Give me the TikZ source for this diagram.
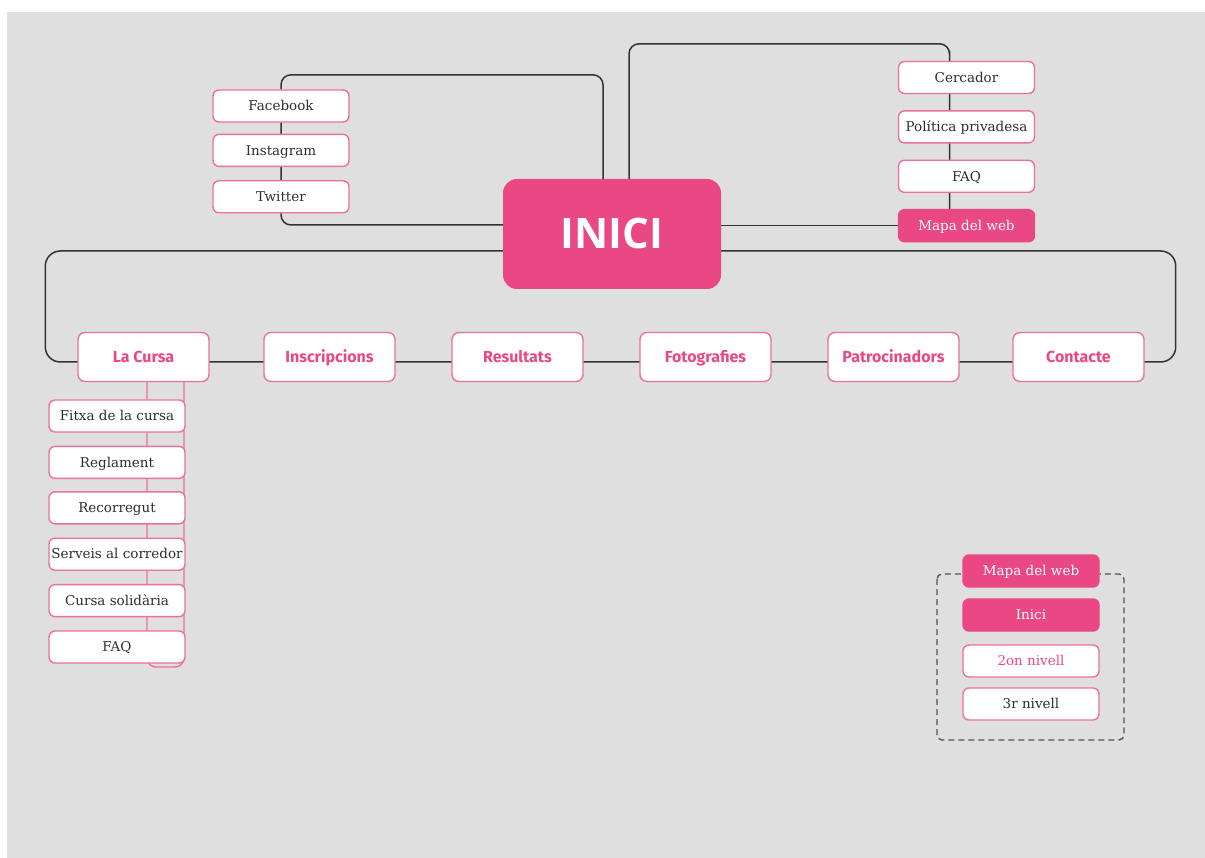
\documentclass[tikz,border=0pt]{standalone}
\usepackage{fontspec}
\setmainfont{DejaVu Serif}
\newfontfamily\firasans{Fira Sans}
\newfontfamily\opensans{Open Sans}
\usepackage{tikz}
\usetikzlibrary{positioning, backgrounds}
\definecolor{pinkmain}{HTML}{EA4884}
\definecolor{pinkline}{HTML}{EE6F9D}
\definecolor{bggray}{HTML}{DFDFDF}
\definecolor{wire}{HTML}{333333}
\definecolor{darktext}{HTML}{2E2E2E}
\tikzstyle{hub} = [rectangle, rounded corners=14pt, minimum width=218pt, minimum height=110pt, inner sep=0pt, fill=pinkmain, text=white, font=\opensans\bfseries\fontsize{42}{46}\selectfont]
\tikzstyle{section} = [rectangle, rounded corners=7pt, minimum width=131pt, minimum height=49pt, inner sep=0pt, text height=14pt, text depth=3pt, draw=pinkline, line width=1.4pt, fill=white, text=pinkmain, font=\firasans\bfseries\fontsize{16}{18}\selectfont]
\tikzstyle{leaf} = [rectangle, rounded corners=6pt, minimum width=136pt, minimum height=32pt, inner sep=0pt, text height=12pt, text depth=2.5pt, draw=pinkline, line width=1.4pt, fill=white, text=darktext, font=\fontsize{13.5}{15}\selectfont]
\tikzstyle{leafon} = [leaf, draw=pinkmain, fill=pinkmain, text=white]
\tikzstyle{link} = [draw=wire, line width=1.5pt, rounded corners=10pt]
\tikzstyle{sublink} = [draw=pinkline, line width=1.4pt, rounded corners=9pt]

\begin{document}
\begin{tikzpicture}[x=1pt, y=-1pt]
    \useasboundingbox (0,0) rectangle (1205,858);
    \begin{scope}[on background layer]
        \fill[bggray] (7,12) rectangle (1205,858);
    \end{scope}

    \node (inici) [hub] at (612,234) {INICI};

    % xarxes socials
    \node (facebook) [leaf] at (281,106) {Facebook};
    \node (instagram) [leaf, below=11pt of facebook] {Instagram};
    \node (twitter) [leaf, below=13pt of instagram] {Twitter};

    % menu superior
    \node (cercador) [leaf] at (966.5,77.5) {Cercador};
    \node (politica) [leaf, below=16pt of cercador] {Política privadesa};
    \node (faq) [leaf, below=16pt of politica] {FAQ};
    \node (mapa) [leafon, below=16pt of faq] {Mapa del web};

    % segon nivell
    \node (lacursa) [section] at (143.5,357) {La Cursa};
    \node (inscripcions) [section] at (329.5,357) {Inscripcions};
    \node (resultats) [section] at (517.5,357) {Resultats};
    \node (fotografies) [section] at (705.5,357) {Fotografies};
    \node (patrocinadors) [section] at (893.5,357) {Patrocinadors};
    \node (contacte) [section] at (1078.5,357) {Contacte};

    % tercer nivell
    \node (fitxa) [leaf] at (117,416) {Fitxa de la cursa};
    \node (reglament) [leaf, below=13pt of fitxa] {Reglament};
    \node (recorregut) [leaf, below=12pt of reglament] {Recorregut};
    \node (serveis) [leaf, below=13pt of recorregut] {Serveis al corredor};
    \node (solidaria) [leaf, below=13pt of serveis] {Cursa solidària};
    \node (faqcursa) [leaf, below=13pt of solidaria] {FAQ};
    \coordinate (loopend) at (184,667);

    % llegenda
    \node (llegmapa) [leafon] at (1031,571) {Mapa del web};
    \node (llegstart) [leafon] at (1031,615) {Inici};
    \node (llegdos) [leaf, text=pinkmain] at (1031,661) {2on nivell};
    \node (llegtres) [leaf] at (1031,704) {3r nivell};

    \begin{scope}[on background layer]
        \draw [link] ([xshift=-9pt]inici.north) -- ++(0,-104) -| (facebook) -- (twitter) |- ([yshift=9pt]inici.west);
        \draw [link] ([xshift=17pt]inici.north) -- ++(0,-135) -| ([xshift=-17pt]cercador.north) -- ([xshift=-17pt]mapa.center);
        \draw [link] (inici.east |- mapa) -- (mapa);
        \draw [link, rounded corners=15pt] ([yshift=-17pt]inici.west) -| ([xshift=-32pt,yshift=-5pt]lacursa.west) -- ([xshift=31pt,yshift=-5pt]contacte.east) |- ([yshift=-17pt]inici.east);
        \draw [sublink] ([xshift=3.5pt]lacursa.south) |- (loopend) -- (loopend |- lacursa.south);
        \draw [draw=wire!85, line width=1.4pt, dash pattern=on 6pt off 4pt, rounded corners=5pt] (937,574) rectangle (1124,740);
    \end{scope}
\end{tikzpicture}
\end{document}
